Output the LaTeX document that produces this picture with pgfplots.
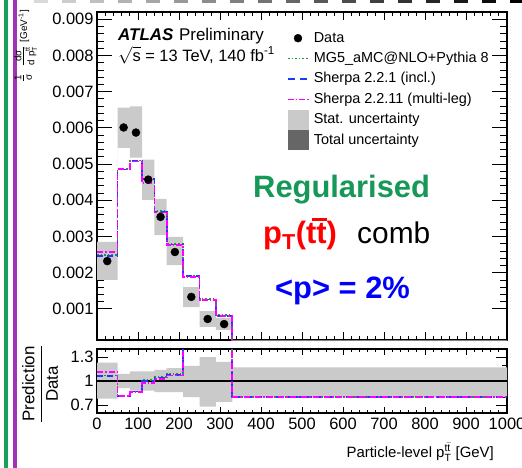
\documentclass[border=0pt]{standalone}
\usepackage{fontspec}
\setmainfont{Liberation Sans}
\usepackage{amsmath}
\usepackage{pgfplots}
\usepackage{pgfplotstable}
\pgfplotsset{compat=1.18}

\definecolor{mggreen}{RGB}{30,150,50}
\definecolor{shblue}{RGB}{25,60,250}
\definecolor{shpink}{RGB}{255,0,255}
\definecolor{statgrey}{RGB}{202,202,202}
\definecolor{totgrey}{RGB}{102,102,102}
\definecolor{reggreen}{RGB}{22,152,88}
\definecolor{barpurple}{RGB}{160,50,180}
\definecolor{bargreen}{RGB}{25,160,90}

% bin edges: 0 50 80 110 140 170 210 250 290 330 1000
\pgfplotstableread{
x    y
25   2.32e-3
65   6.01e-3
95   5.87e-3
125  4.57e-3
155  3.54e-3
190  2.57e-3
230  1.33e-3
270  0.72e-3
310  0.58e-3
665  0.13e-3
}\datatab

% step curves, value of a bin given at its left edge
\pgfplotstableread{
x     mg       sa       sb
0     2.48e-3  2.46e-3  2.58e-3
50    4.86e-3  4.85e-3  4.87e-3
80    5.10e-3  5.09e-3  5.07e-3
110   4.60e-3  4.58e-3  4.48e-3
140   3.70e-3  3.68e-3  3.66e-3
170   2.80e-3  2.78e-3  2.76e-3
210   1.92e-3  1.90e-3  1.88e-3
250   1.27e-3  1.26e-3  1.24e-3
290   0.82e-3  0.81e-3  0.80e-3
330   0.09e-3  0.09e-3  0.09e-3
1000  0.09e-3  0.09e-3  0.09e-3
}\maintab

\pgfplotstableread{
x     mg    sa    sb
0     1.07  1.06  1.11
50    0.81  0.81  0.81
80    0.87  0.87  0.86
110   1.01  1.00  0.98
140   1.05  1.04  1.03
170   1.09  1.08  1.07
210   1.45  1.45  1.45
250   1.75  1.75  1.75
290   1.45  1.45  1.45
330   0.80  0.80  0.80
1000  0.80  0.80  0.80
}\ratiotab

\newcommand{\tbar}{\hbox{\kern-4bp\vbox{\hrule height 2.6bp\kern1.8bp\hbox{\kern4bp t}}}}

\pgfplotsset{
  atlas/.style={
    scale only axis, width=410bp,
    xmin=0, xmax=1000,
    axis line style={line width=1.1bp},
    tick align=inside, tick pos=both,
    tick style={black, line width=0.8bp},
    xtick distance=100, minor x tick num=4,
    tick label style={font=\fontsize{16.5}{18}\selectfont},
    /pgf/number format/assume math mode=true,
    /pgf/number format/1000 sep={},
  },
  mgline/.style={mggreen, line width=1.8bp, dash pattern=on 1.6bp off 2bp},
  saline/.style={shblue, line width=1.8bp, dash pattern=on 6bp off 4bp},
  sbline/.style={shpink, line width=1.8bp, dash pattern=on 6bp off 2bp on 1.5bp off 2bp},
  lineleg/.style={legend image code/.code={\draw[##1] (0bp,0bp) -- (21bp,0bp);}},
  dotleg/.style={legend image code/.code={\fill[black] (10bp,0bp) circle (4bp);}},
  statleg/.style={legend image code/.code={\fill[statgrey, overlay] (0bp,-9.5bp) rectangle (20bp,9.5bp);}},
  totleg/.style={legend image code/.code={\fill[totgrey, overlay] (0bp,-9.5bp) rectangle (20bp,9.5bp);}},
}

\begin{document}
\begin{tikzpicture}
\useasboundingbox (0,0) rectangle (522bp,-468bp);

% frame decorations of the screenshot
\fill[bargreen] (4bp,0) rectangle (8bp,-468bp);
\fill[barpurple] (12.5bp,0) rectangle (16.5bp,-468bp);
\foreach \i in {0,...,17} {
  \pgfmathsetmacro{\shade}{15+5*\i}
  \fill[black!\shade] ({(34+28*\i)*1bp},0) rectangle ({(48+28*\i)*1bp},-2.5bp);
}

\begin{axis}[atlas,
  at={(97bp,-12bp)}, anchor=north west, height=328bp,
  ymin=0.00014, ymax=0.0092,
  xticklabel=\empty,
  ytick={0.001,0.002,0.003,0.004,0.005,0.006,0.007,0.008,0.009},
  minor y tick num=4,
  scaled y ticks=false,
  yticklabel style={/pgf/number format/.cd, fixed, fixed zerofill, precision=3},
  major tick length=8bp, minor tick length=4bp,
  every major y tick/.append style={/pgfplots/major tick length=15bp},
  every minor y tick/.append style={/pgfplots/minor tick length=7.5bp},
  legend style={at={(0.4634,0.9421)}, anchor=north west, draw=none, fill=none,
    inner sep=0pt, font=\fontsize{14.5}{16}\selectfont, row sep=6.4bp,
    nodes={text height=11bp, text depth=3bp, inner ysep=0bp, inner xsep=4bp},
    cells={anchor=west}},
  legend cell align=left,
]
\addlegendimage{dotleg}
\addlegendentry{Data}
\addlegendimage{mgline, line width=1.6bp, lineleg}
\addlegendentry{MG5\_aMC@NLO+Pythia 8}
\addlegendimage{saline, line width=1.6bp, dash pattern=on 7bp off 5bp, lineleg}
\addlegendentry{Sherpa 2.2.1 (incl.)}
\addlegendimage{sbline, line width=1.6bp, lineleg}
\addlegendentry{Sherpa 2.2.11 (multi-leg)}
\addlegendimage{statleg}
\addlegendentry{Stat. uncertainty}
\addlegendimage{totleg}
\addlegendentry{Total uncertainty}

% uncertainty boxes of the data (upper edges, then lower edges backwards)
\addplot[forget plot, fill=statgrey, draw=none] coordinates {
 (0,2.85e-3) (50,2.85e-3) (50,6.56e-3) (80,6.56e-3) (80,6.59e-3) (110,6.59e-3)
 (110,5.12e-3) (140,5.12e-3) (140,4.04e-3) (170,4.04e-3) (170,2.99e-3) (210,2.99e-3)
 (210,1.60e-3) (250,1.60e-3) (250,0.94e-3) (290,0.94e-3) (290,0.75e-3) (330,0.75e-3)
 (330,0.13e-3) (1000,0.13e-3)
 (1000,0.09e-3) (330,0.09e-3) (330,0.42e-3) (290,0.42e-3) (290,0.50e-3) (250,0.50e-3)
 (250,1.05e-3) (210,1.05e-3) (210,2.21e-3) (170,2.21e-3) (170,3.04e-3) (140,3.04e-3)
 (140,4.01e-3) (110,4.01e-3) (110,5.18e-3) (80,5.18e-3) (80,5.45e-3) (50,5.45e-3)
 (50,1.80e-3) (0,1.80e-3)
};

\addplot[forget plot, mgline, const plot] table[x=x, y=mg] {\maintab};
\addplot[forget plot, saline, const plot] table[x=x, y=sa] {\maintab};
\addplot[forget plot, sbline, const plot] table[x=x, y=sb] {\maintab};

\addplot[forget plot, only marks, mark=*, mark size=4bp, black] table[x=x, y=y] {\datatab};
\end{axis}
% blank gap between the panels
\fill[white] (97bp,-340.7bp) rectangle (508bp,-348.4bp);

\begin{axis}[atlas,
  at={(97bp,-349bp)}, anchor=north west, height=64bp,
  ymin=0.6, ymax=1.4,
  ytick={0.7,1,1.3}, yticklabels={0.7,1,1.3},
  minor ytick={0.8,0.9,1.1,1.2},
  major tick length=6bp, minor tick length=3bp,
  every major y tick/.append style={/pgfplots/major tick length=11bp},
  every minor y tick/.append style={/pgfplots/minor tick length=5.5bp},
  xticklabel style={yshift=-1bp},
]
\addplot[fill=statgrey, draw=none] coordinates {
 (0,1.23) (50,1.23) (50,1.09) (80,1.09) (80,1.12) (140,1.12) (140,1.14) (170,1.14)
 (170,1.16) (210,1.16) (210,1.19) (250,1.19) (250,1.30) (290,1.30) (290,1.24) (330,1.24)
 (330,1.17) (1000,1.17)
 (1000,0.80) (330,0.80) (330,0.74) (290,0.74) (290,0.68) (250,0.68) (250,0.80) (210,0.80)
 (210,0.86) (140,0.86) (140,0.88) (80,0.88) (80,0.91) (50,0.91) (50,0.78) (0,0.78)
};
\addplot[black, line width=1.4bp] coordinates {(0,1) (1000,1)};
\addplot[mgline, const plot] table[x=x, y=mg] {\ratiotab};
\addplot[saline, const plot] table[x=x, y=sa] {\ratiotab};
\addplot[sbline, const plot] table[x=x, y=sb] {\ratiotab};
\end{axis}

% annotations
\node[anchor=base west, inner sep=0pt, font=\fontsize{17}{19}\selectfont]
  at (118bp,-40bp) {\textbf{\textit{ATLAS}}\hspace{1bp} Preliminary};
\node[anchor=base west, inner sep=0pt, font=\fontsize{16.5}{19}\selectfont]
  at (118bp,-61bp) {$\sqrt{\text{s}}$ = 13 TeV, 140 fb\textsuperscript{-1}};

\node[anchor=base west, inner sep=0pt, font=\fontsize{31}{34}\selectfont\bfseries, text=reggreen]
  at (253bp,-197bp) {Regularised};
\node[anchor=base west, inner sep=0pt, font=\fontsize{31}{34}\selectfont\bfseries, text=red]
  at (263bp,-243bp) {p\textsubscript{T}(t\tbar)};
\node[anchor=base west, inner sep=0pt, font=\fontsize{30}{34}\selectfont]
  at (357bp,-243bp) {comb};
\node[anchor=base west, inner sep=0pt, font=\fontsize{31}{34}\selectfont\bfseries, text=blue]
  at (275bp,-298bp) {<p> = 2\%};

\node[rotate=90, anchor=base east, inner sep=0pt, font=\fontsize{14}{16}\selectfont]
  at (27bp,-10bp) {$\frac{\text{1}}{\text{σ}}$\hspace{7bp}$\frac{\text{dσ}}{\text{d\hspace{3bp}p}_{\text{T}}^{\text{t}\bar{\text{t}}}}$\hspace{3bp}{\fontsize{10}{11}\selectfont[GeV\textsuperscript{-1}]}};
\node[rotate=90, inner sep=0pt, font=\fontsize{17}{19}\selectfont]
  at (40bp,-384bp) {$\dfrac{\text{Prediction}}{\text{Data}}$};
\node[anchor=base east, inner sep=0pt, font=\fontsize{15}{17}\selectfont]
  at (494bp,-457bp) {Particle-level $\text{p}_{\text{T}}^{\text{t}\bar{\text{t}}}$ [GeV]};
\end{tikzpicture}
\end{document}
